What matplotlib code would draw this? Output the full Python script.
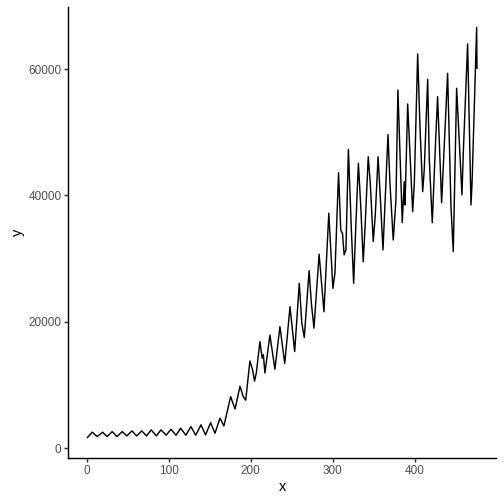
import matplotlib
matplotlib.use("Agg")
import matplotlib.pyplot as plt

# vertices of the series (peaks, troughs, shoulders)
x_vals = [1, 6.8, 12.9, 19.5, 25, 31.2, 37, 43.4, 49, 55.2, 61, 67.1, 73, 78.8,
          85, 90.6, 97, 102.8, 109, 114.6, 121, 127.2, 133, 139.4, 145, 151.2,
          156.5, 162.6, 167.4, 175.6, 181, 187, 191, 194, 199.1, 202.4, 204.8,
          207, 211.3, 214.1, 215.5, 217.4, 223.5, 229.6, 235.7, 241.6, 248,
          253.7, 259.3, 262.4, 265.4, 271.3, 274, 277.2, 283.5, 289.4, 295.3,
          300.3, 302.8, 307.2, 309.9, 312, 314, 316.2, 319.2, 322.8, 325.6,
          328.2, 331.4, 334.3, 337.3, 339.6, 343.4, 345.9, 349.5, 352, 355.4,
          358, 361.4, 367.5, 369.9, 373.9, 377.2, 379.6, 384.9, 387.3, 388.3,
          391.5, 397.6, 399.6, 403.7, 406.5, 409.8, 411.7, 415.9, 417.8, 421.5,
          425.6, 428, 432.9, 440.2, 444.3, 447.1, 451.2, 457.7, 459.3, 464.6,
          468.7, 470, 475.6, 476]
y_vals = [1700, 2530, 1840, 2530, 1840, 2630, 1840, 2630, 1950, 2740, 1950, 2740,
          1950, 2900, 1950, 2900, 2060, 3000, 2060, 3160, 2060, 3420, 2060, 3690,
          2110, 4050, 2370, 4745, 3530, 8160, 6200, 9800, 8160, 7600, 13800,
          12390, 10600, 12000, 16860, 14240, 14800, 11900, 17900, 12500, 19240,
          13400, 22400, 15300, 26100, 19800, 17500, 28100, 23000, 19000, 30700,
          21600, 37180, 25300, 27700, 43600, 34500, 34000, 30600, 31400, 47300,
          34700, 26100, 35000, 45100, 38220, 29500, 35200, 46130, 41920, 32700,
          36900, 46130, 40000, 31370, 49640, 41920, 32950, 39280, 56680, 35690,
          42180, 38500, 54470, 37430, 41920, 62380, 50880, 40600, 44030, 58380,
          45880, 35690, 48770, 55620, 38850, 59320, 38220, 31100, 56950, 40070,
          46670, 63960, 38490, 41920, 66600, 60120]

x_ticks = [0, 100, 200, 300, 400]
y_ticks = [0, 20000, 40000, 60000]

plt.rcParams['font.family'] = ['Liberation Sans', 'DejaVu Sans']

# reference was drawn at 96 dpi, so ggplot sizes in pt are scaled by 4/3 here
S = 96 / 72

fig = plt.figure(figsize=(7, 7), dpi=72)
ax = fig.add_axes([0.1349, 0.0913, 0.985 - 0.1349, 0.9865 - 0.0913])

ax.plot(x_vals, y_vals, color='black', linewidth=1.07 * S, solid_joinstyle='round')

# ggplot-style 5% expansion
xr = max(x_vals) - min(x_vals)
yr = max(y_vals) - min(y_vals)
ax.set_xlim(min(x_vals) - 0.05 * xr, max(x_vals) + 0.05 * xr)
ax.set_ylim(min(y_vals) - 0.05 * yr, max(y_vals) + 0.05 * yr)

ax.set_xticks(x_ticks)
ax.set_yticks(y_ticks)
ax.set_xticklabels([str(t) for t in x_ticks])
ax.set_yticklabels([str(t) for t in y_ticks])

for side in ['top', 'right']:
    ax.spines[side].set_visible(False)
for side in ['left', 'bottom']:
    ax.spines[side].set_linewidth(1.07 * S)
    ax.spines[side].set_color('black')

ax.tick_params(axis='both', length=2.75 * S, width=1.07 * S, color='#333333',
               labelsize=8.8 * S, labelcolor='#4D4D4D', pad=2.2 * S)

ax.set_xlabel('x', fontsize=11 * S, labelpad=2.75 * S)
ax.set_ylabel('y', fontsize=11 * S, labelpad=2.75 * S)

fig.savefig('out.png', dpi=72)
